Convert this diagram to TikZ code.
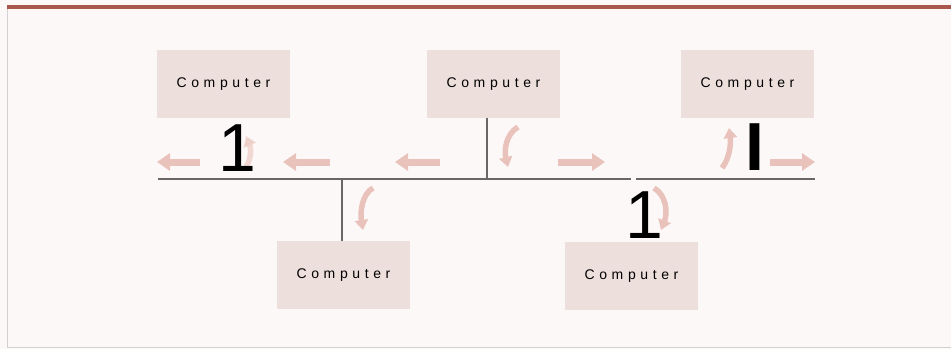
\documentclass[tikz,border=0pt]{standalone}
\usepackage{fontspec}
\setmainfont{Liberation Sans}
\newfontfamily\labelfont[LetterSpace=33]{Liberation Sans}
\usetikzlibrary{arrows.meta, positioning}
\definecolor{pageBg}{HTML}{FDF8F8}
\definecolor{frameRed}{HTML}{A8574A}
\definecolor{boxPink}{HTML}{EDDFDC}
\definecolor{flowPink}{HTML}{E9C3BB}
\definecolor{busGray}{HTML}{6A6666}

\tikzset{
  pcbox/.style={fill=boxPink, minimum width=133pt, minimum height=68pt, inner sep=0pt,
    font=\labelfont\fontsize{14}{16}\selectfont},
  busline/.style={busGray, line width=2.2pt},
  flowarrow/.style={flowPink, line width=7pt, -{Triangle[length=13pt, width=17pt]}},
  turnarrow/.style={flowPink, line width=5.5pt, -{Triangle[length=10pt, width=13pt]}},
  bigmark/.style={inner sep=0pt, font=\fontsize{68}{68}\selectfont}
}

\begin{document}
\begin{tikzpicture}[x=1pt, y=-1pt]
    % Page
    \fill[pageBg] (0,0) rectangle (951,349);
    \useasboundingbox (0,0) rectangle (951,349);
    \fill[frameRed] (7,5) rectangle (951,9);
    \draw[gray!35, line width=0.8pt] (7,9) -- (7,347) -- (951,347);

    % Computers
    \node[pcbox] (pcA) at (223.5,84) {Computer};
    \node[pcbox] (pcB) at (493.5,84) {Computer};
    \node[pcbox] (pcC) at (747.5,84) {Computer};
    \node[pcbox] (pcD) at (343.5,275) {Computer};
    \node[pcbox] (pcE) at (631.5,276) {Computer};

    % Bus
    \coordinate (busW) at (158,179);
    \coordinate (busE) at (815,179);
    \coordinate (gapW) at (631,179);
    \coordinate (gapE) at (636,179);
    \draw[busline] (busW) -- (gapW);
    \draw[busline] (gapE) -- (busE);
    \coordinate (tapB) at (487,179);
    \coordinate (tapD) at (342,179);
    \draw[busline] (pcB.south -| tapB) -- (tapB);
    \draw[busline] (tapD) -- (pcD.north -| tapD);

    % Signal arrows along the bus
    \foreach \xa/\xb in {200/157, 330/283, 440/395, 558/605, 770/815}
        \draw[flowarrow] (\xa,162) -- (\xb,162);

    % Turning arrows
    \draw[turnarrow] (518,127) .. controls (506,134) and (504,150) .. (508,167);
    \draw[turnarrow] (373,188) .. controls (362,194) and (360,212) .. (363,230);
    \draw[turnarrow] (654,188) .. controls (666,195) and (668,212) .. (661,230);
    \draw[turnarrow] (722,168) .. controls (730,158) and (731,142) .. (729,128);
    \draw[turnarrow, opacity=0.6] (244,170) .. controls (252,160) and (251,148) .. (246,136);

    % Marks
    \node[bigmark] (markA) at (237.5,148) {1};
    \node[bigmark, font=\bfseries\fontsize{68}{68}\selectfont] (markC) at (755,147) {I};
    \node[bigmark] (markE) at (644,215) {1};
\end{tikzpicture}
\end{document}
